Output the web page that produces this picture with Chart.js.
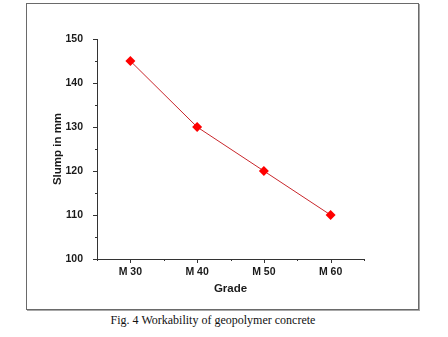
<!DOCTYPE html>
<html>
<head>
<meta charset="utf-8">
<script src="https://cdn.jsdelivr.net/npm/chart.js@4.4.1/dist/chart.umd.min.js"></script>
<style>
    html, body { margin: 0; padding: 0; background: #fff; }
    body { width: 448px; height: 337px; position: relative; overflow: hidden; }
    #frame {
        position: absolute; left: 26px; top: 3px;
        width: 391px; height: 305px;
        border: 1px solid #6a6a6a;
        box-shadow: 1px 1px 0 #a8a8a8;
    }
    #wrap { position: absolute; left: 0; top: 0; width: 391px; height: 305px; }
    #caption {
        position: absolute; left: 0; width: 426px; top: 313px;
        text-align: center;
        font: 12px "Liberation Serif", "Times New Roman", serif;
        color: #111; line-height: 14px;
    }
</style>
</head>
<body>
<div id="frame"><div id="wrap"><canvas id="chart"></canvas></div></div>
<div id="caption">Fig. 4 Workability of geopolymer concrete</div>
<script>
const grades = ["M 30", "M 40", "M 50", "M 60"];
const slump = [145, 130, 120, 110];
const yTicks = [100, 110, 120, 130, 140, 150];

const axisColor = "#333";
const tickFont = { family: "'Liberation Sans', Arial, sans-serif", size: 10.5, weight: "bold" };
const titleFont = { family: "'Liberation Sans', Arial, sans-serif", size: 11.5, weight: "bold" };

// outward tick marks: long at labelled ticks, short at the in-between ones
const tickMarks = {
    id: "tickMarks",
    afterDraw(chart) {
        const ctx = chart.ctx;
        ctx.save();
        ctx.strokeStyle = axisColor;
        ctx.lineWidth = 1;
        const xs = chart.scales.x;
        xs.ticks.forEach((t) => {
            const px = Math.round(xs.getPixelForValue(t.value)) + 0.5;
            const len = Number.isInteger(t.value) ? 4 : 2;
            ctx.beginPath();
            ctx.moveTo(px, xs.top);
            ctx.lineTo(px, xs.top + len);
            ctx.stroke();
        });
        const ys = chart.scales.y;
        ys.ticks.forEach((t) => {
            const py = Math.round(ys.getPixelForValue(t.value)) + 0.5;
            const len = yTicks.includes(t.value) ? 4 : 2;
            ctx.beginPath();
            ctx.moveTo(ys.right, py);
            ctx.lineTo(ys.right - len, py);
            ctx.stroke();
        });
        ctx.restore();
    },
};

new Chart(document.getElementById("chart"), {
    type: "line",
    data: {
        datasets: [
            {
                label: "Slump",
                data: grades.map((g, i) => ({ x: i + 1, y: slump[i] })),
                borderColor: "#c8262b",
                borderWidth: 1,
                pointStyle: "rectRot",
                pointRadius: 5,
                pointBackgroundColor: "#f00",
                pointBorderColor: "#f00",
                pointBorderWidth: 0,
                tension: 0,
            },
        ],
    },
    options: {
        responsive: true,
        maintainAspectRatio: false,
        animation: false,
        layout: { padding: { top: 35, right: 54, left: 20, bottom: 9 } },
        plugins: { legend: { display: false }, tooltip: { enabled: false } },
        scales: {
            x: {
                type: "linear",
                min: 0.5,
                max: 4.5,
                afterFit(scale) { scale.height = 41; },
                grid: { display: false },
                border: { display: true, color: axisColor, width: 1 },
                ticks: {
                    stepSize: 0.5,
                    autoSkip: false,
                    maxRotation: 0,
                    padding: -1,
                    color: "#1a1a1a",
                    font: tickFont,
                    callback: (v) => (Number.isInteger(v) ? grades[v - 1] : ""),
                },
                title: { display: true, text: "Grade", color: "#1a1a1a", font: titleFont },
            },
            y: {
                min: 100,
                max: 150,
                afterFit(scale) { scale.width = 50; },
                grid: { display: false },
                border: { display: true, color: axisColor, width: 1 },
                ticks: {
                    stepSize: 5,
                    autoSkip: false,
                    padding: 6,
                    color: "#1a1a1a",
                    font: tickFont,
                    callback: (v) => (yTicks.includes(v) ? v : ""),
                },
                title: { display: true, text: "Slump in mm", color: "#1a1a1a", font: titleFont },
            },
        },
    },
    plugins: [tickMarks],
});
</script>
</body>
</html>
